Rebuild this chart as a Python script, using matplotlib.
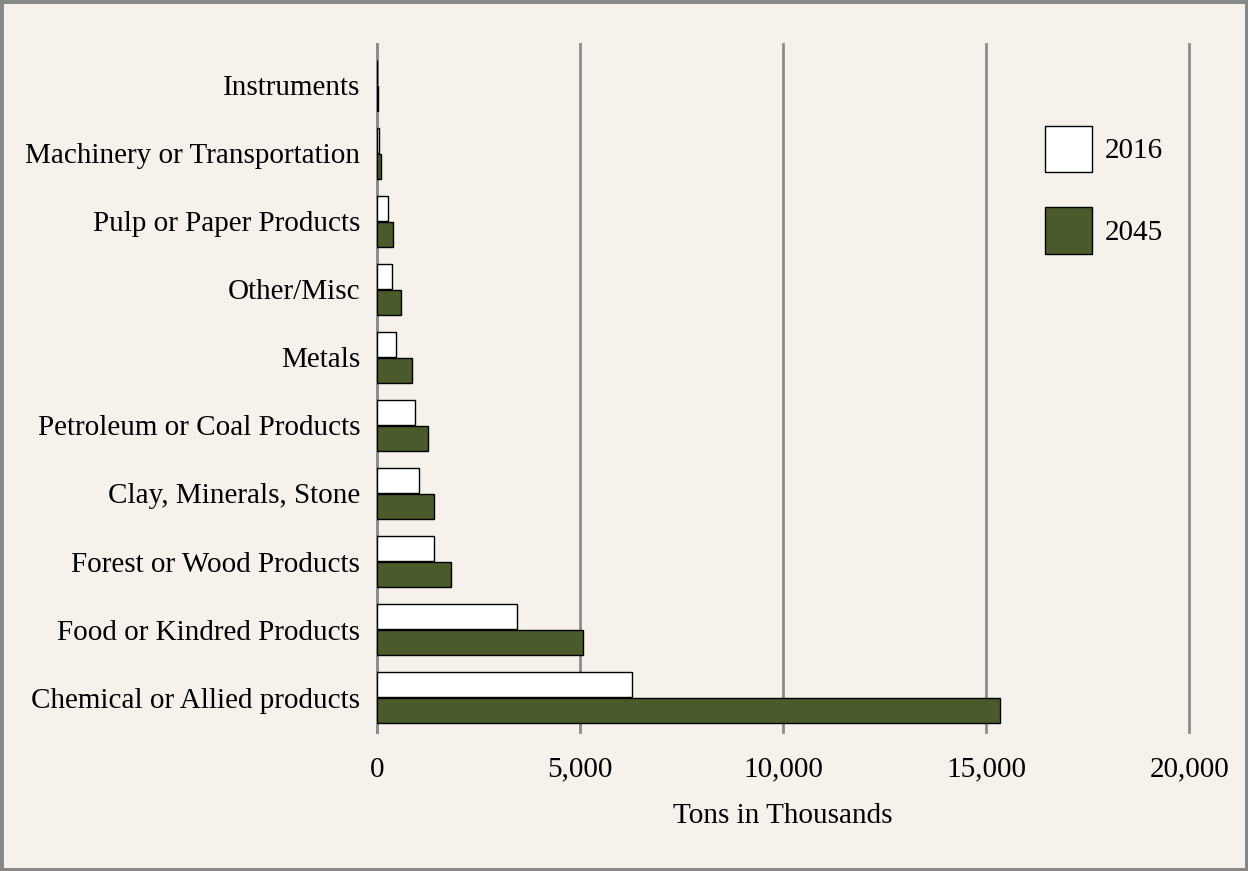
import numpy as np
import matplotlib
matplotlib.use('Agg')
import matplotlib.pyplot as plt
from matplotlib.patches import Rectangle

categories = ['Chemical or Allied products', 'Food or Kindred Products', 'Forest or Wood Products',
              'Clay, Minerals, Stone', 'Petroleum or Coal Products', 'Metals', 'Other/Misc',
              'Pulp or Paper Products', 'Machinery or Transportation', 'Instruments']
tons_2016 = [6280, 3450, 1400, 1030, 940, 470, 370, 270, 60, 10]
tons_2045 = [15350, 5080, 1830, 1400, 1260, 860, 590, 400, 110, 20]
xticks = [0, 5000, 10000, 15000, 20000]

bg = '#f6f2eb'
green = '#4a5a2a'
plt.rcParams['font.family'] = ['Liberation Serif', 'DejaVu Serif']
fs = 21

fig = plt.figure(figsize=(12.48, 8.71), dpi=100, facecolor=bg)
fig.patches.append(Rectangle((0, 0), 1, 1, transform=fig.transFigure, fill=False,
                             edgecolor='#888888', linewidth=5, zorder=10))
ax = fig.add_axes([0.302, 0.16, 0.651, 0.789])
ax.set_facecolor(bg)

y = np.arange(len(categories))
h = 0.37
ax.barh(y + 0.19, tons_2016, height=h, color='white', edgecolor='black', linewidth=1, label='2016', zorder=3)
ax.barh(y - 0.19, tons_2045, height=h, color=green, edgecolor='black', linewidth=1, label='2045', zorder=3)

ax.set_ylim(-0.5, 9.6)
ax.set_xlim(0, 20000)
ax.set_yticks(y)
ax.set_yticklabels(categories, fontsize=fs)
ax.set_xticks(xticks)
ax.set_xticklabels([f'{v:,}' for v in xticks], fontsize=fs)
ax.tick_params(axis='x', length=0, pad=18)
ax.tick_params(axis='y', length=0, pad=12)
ax.xaxis.grid(True, color='#8c8c8c', linewidth=2, zorder=0)
for gl in ax.get_xgridlines():
    gl.set_clip_on(False)
for s in ['top', 'right', 'bottom']:
    ax.spines[s].set_visible(False)
ax.spines['left'].set_color('#8c8c8c')
ax.spines['left'].set_linewidth(2)
ax.set_xlabel('Tons in Thousands', fontsize=fs, labelpad=15)

ax.legend(loc='upper left', bbox_to_anchor=(0.822, 0.882), frameon=False, fontsize=fs,
          handlelength=1.62, handleheight=2.08, labelspacing=1.2, handletextpad=0.45,
          borderpad=0, borderaxespad=0)

fig.savefig('out.png', facecolor=bg)
